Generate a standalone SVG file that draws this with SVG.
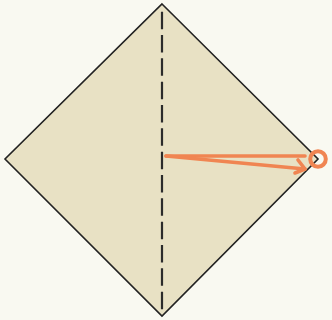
<svg xmlns="http://www.w3.org/2000/svg" width="332" height="320" viewBox="0 0 332 320">
<style>
.fold{stroke:#2b2b2b;stroke-width:2.2;fill:none;stroke-dasharray:17.5 5.83}
.ora{stroke:#f08552;stroke-width:3.6;fill:none;stroke-linecap:round;stroke-linejoin:round}
</style>
<rect width="332" height="320" fill="#f9f9f1"/>
<g id="paper">
<polygon points="162,4 318,159 162,316 5,159" fill="#e8e1c4" stroke="#222" stroke-width="1.6"/>
</g>
<g id="connectors">
<line class="fold" x1="162" y1="11.7" x2="162" y2="310"/>
<path class="ora" d="M166,156 L305,156"/>
<path class="ora" d="M166,156 L305,169"/>
<path class="ora" d="M298,160 L305,169 L295,173"/>
</g>
<g id="target">
<circle cx="318" cy="159" r="7.8" fill="none" stroke="#f08552" stroke-width="4"/>
</g>
</svg>
